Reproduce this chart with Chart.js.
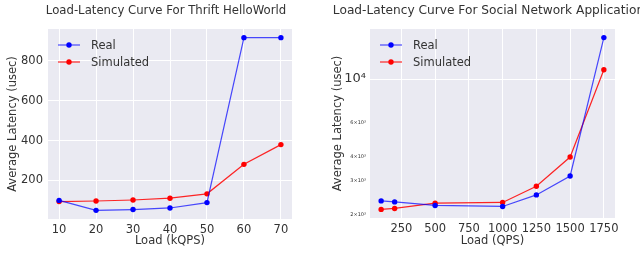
<!DOCTYPE html>
<html>
<head>
<meta charset="utf-8">
<script src="https://cdn.jsdelivr.net/npm/chart.js@4"></script>
<style>
  body { margin: 0; background: #fff; overflow: hidden; }
  .box { position: absolute; top: 0; width: 320px; height: 253px; }
</style>
</head>
<body>
<div class="box" style="left:0"><canvas id="thrift" width="320" height="253"></canvas></div>
<div class="box" style="left:320px"><canvas id="social" width="320" height="253"></canvas></div>
<script>
// data
const thriftLoad = [10, 20, 30, 40, 50, 60, 70];
const thriftReal = [100, 50, 54, 62, 89, 917, 917];
const thriftSim = [94, 97, 102, 111, 133, 281, 380];
const thriftXTicks = [10, 20, 30, 40, 50, 60, 70];
const thriftYTicks = [200, 400, 600, 800];

const socialLoad = [100, 200, 500, 1000, 1250, 1500, 1750];
const socialReal = [2367, 2339, 2242, 2216, 2540, 3177, 16320];
const socialSim = [2140, 2165, 2304, 2323, 2814, 3975, 11156];
const socialXTicks = [250, 500, 750, 1000, 1250, 1500, 1750];
const socialYTicks = [2000, 3000, 4000, 6000, 10000];

const FONT = "'DejaVu Sans', sans-serif";
const TXT = '#333';
const BLUE = 'rgba(0,0,255,0.7)';
const RED = 'rgba(255,0,0,0.85)';

Chart.defaults.font.family = FONT;
Chart.defaults.color = TXT;

function pts(xs, ys) {
    return xs.map((x, i) => ({ x: x, y: ys[i] }));
}

// matplotlib style 5% margins
function pad(vals, log) {
    let lo = Math.min(...vals), hi = Math.max(...vals);
    if (log) {
        lo = Math.log10(lo); hi = Math.log10(hi);
        const m = (hi - lo) * 0.05;
        return [Math.pow(10, lo - m), Math.pow(10, hi + m)];
    }
    const m = (hi - lo) * 0.05;
    return [lo - m, hi + m];
}

const bgPlugin = {
    id: 'bg',
    beforeDraw(chart) {
        const { ctx, chartArea: a } = chart;
        ctx.save();
        ctx.fillStyle = '#EAEAF2';
        ctx.fillRect(a.left, a.top, a.right - a.left, a.bottom - a.top);
        ctx.restore();
    }
};

// axes title, centred where matplotlib put it
const axTitle = {
    id: 'axTitle',
    afterDraw(chart, args, opts) {
        const ctx = chart.ctx;
        ctx.save();
        ctx.fillStyle = TXT;
        ctx.font = opts.size + 'px ' + FONT;
        ctx.textAlign = 'center';
        ctx.textBaseline = 'middle';
        ctx.fillText(opts.text, opts.x, 10.5);
        ctx.restore();
    }
};

// legend sits inside the axes, like matplotlib's upper left
const inlineLegend = {
    id: 'inlineLegend',
    afterDatasetsDraw(chart) {
        const { ctx, chartArea: a } = chart;
        chart.data.datasets.forEach((ds, i) => {
            const y = a.top + 16 + i * 17;
            const x0 = a.left + 10;
            ctx.save();
            ctx.strokeStyle = ds.borderColor;
            ctx.lineWidth = ds.borderWidth;
            ctx.beginPath();
            ctx.moveTo(x0, y);
            ctx.lineTo(x0 + 22, y);
            ctx.stroke();
            ctx.fillStyle = ds.pointBackgroundColor;
            ctx.beginPath();
            ctx.arc(x0 + 11, y, ds.pointRadius, 0, Math.PI * 2);
            ctx.fill();
            ctx.fillStyle = TXT;
            ctx.font = '11.5px ' + FONT;
            ctx.textBaseline = 'middle';
            ctx.fillText(ds.label, x0 + 33, y + 1);
            ctx.restore();
        });
    }
};

function dataset(label, data, line, dot) {
    return {
        label: label,
        data: data,
        borderColor: line,
        borderWidth: 1.2,
        pointBackgroundColor: dot,
        pointBorderWidth: 0,
        pointRadius: 2.7,
        tension: 0,
        fill: false
    };
}

function makeChart(id, cfg) {
    const fixedW = cfg.axisW, fixedH = cfg.axisH;
    return new Chart(document.getElementById(id), {
        type: 'line',
        data: {
            datasets: [
                dataset('Real', pts(cfg.xs, cfg.real), BLUE, '#0000ff'),
                dataset('Simulated', pts(cfg.xs, cfg.sim), RED, '#ff0000')
            ]
        },
        options: {
            responsive: false,
            animation: false,
            devicePixelRatio: 1,
            layout: { padding: { left: 0, right: cfg.padRight, top: 29, bottom: 0 } },
            plugins: {
                legend: { display: false },
                tooltip: { enabled: false },
                title: { display: false },
                axTitle: { text: cfg.title, x: cfg.titleX, size: cfg.titleSize }
            },
            scales: {
                x: {
                    type: 'linear',
                    min: cfg.xRange[0],
                    max: cfg.xRange[1],
                    afterBuildTicks: s => { s.ticks = cfg.xTicks.map(v => ({ value: v })); },
                    afterFit: s => { s.height = fixedH; },
                    border: { display: false },
                    grid: { color: '#fff', lineWidth: 1, drawTicks: false },
                    ticks: { padding: 4, color: TXT, font: { size: 11.5 }, maxRotation: 0,
                             callback: v => String(v) },
                    title: {
                        display: true, text: cfg.xTitle, color: TXT,
                        font: { size: 11.5 }, padding: { top: 0, bottom: 5 }
                    }
                },
                y: cfg.y(fixedW)
            }
        },
        plugins: [bgPlugin, inlineLegend, axTitle]
    });
}

makeChart('thrift', {
    title: 'Load-Latency Curve For Thrift HelloWorld',
    titleX: 166, titleSize: 11.7,
    xs: thriftLoad, real: thriftReal, sim: thriftSim,
    xRange: pad(thriftLoad, false),
    xTicks: thriftXTicks,
    xTitle: 'Load (kQPS)',
    padRight: 28, axisW: 48, axisH: 34,
    y: w => {
        const r = pad(thriftReal.concat(thriftSim), false);
        return {
            type: 'linear',
            min: r[0], max: r[1],
            afterBuildTicks: s => { s.ticks = thriftYTicks.map(v => ({ value: v })); },
            afterFit: s => { s.width = w; },
            border: { display: false },
            grid: { color: '#fff', lineWidth: 1, drawTicks: false },
            ticks: { padding: 5, color: TXT, font: { size: 11.5 }, callback: v => String(v) },
            title: {
                display: true, text: 'Average Latency (usec)', color: TXT,
                font: { size: 11.5 }, padding: { top: 6, bottom: 0 }
            }
        };
    }
});

makeChart('social', {
    title: 'Load-Latency Curve For Social Network Application',
    titleX: 168.5, titleSize: 12.2,
    xs: socialLoad, real: socialReal, sim: socialSim,
    xRange: pad(socialLoad, false),
    xTicks: socialXTicks,
    xTitle: 'Load (QPS)',
    padRight: 25, axisW: 50, axisH: 35,
    y: w => {
        const r = pad(socialReal.concat(socialSim), true);
        return {
            type: 'logarithmic',
            min: r[0], max: r[1],
            afterBuildTicks: s => { s.ticks = socialYTicks.map(v => ({ value: v })); },
            afterFit: s => { s.width = w; },
            border: { display: false },
            grid: {
                color: c => (c.tick && c.tick.value === 10000 ? '#fff' : 'rgba(0,0,0,0)'),
                lineWidth: 1, drawTicks: false
            },
            ticks: {
                padding: 4,
                color: TXT,
                font: c => ({ size: c.tick && c.tick.value === 10000 ? 13 : 5, family: FONT }),
                callback: v => (v === 10000 ? '10\u2074' : (v / 1000) + '\u00d710\u00b3')
            },
            title: {
                display: true, text: 'Average Latency (usec)', color: TXT,
                font: { size: 11.5 }, padding: { top: 11, bottom: 0 }
            }
        };
    }
});
</script>
</body>
</html>
